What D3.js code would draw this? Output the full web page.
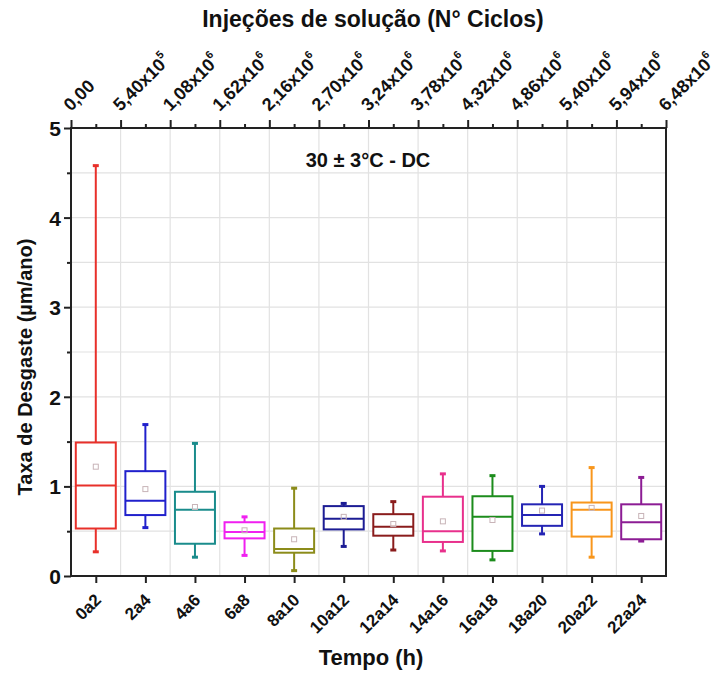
<!DOCTYPE html>
<html>
<head>
<meta charset="utf-8">
<script src="https://cdn.jsdelivr.net/npm/d3@7"></script>
<style>
  body { margin: 0; background: #fff; }
  text { font-family: "Liberation Sans", Arial, sans-serif; font-weight: bold; fill: #111; }
</style>
</head>
<body>
<div id="chart"></div>
<script>
// data
const categories = ["0a2", "2a4", "4a6", "6a8", "8a10", "10a12", "12a14", "14a16", "16a18", "18a20", "20a22", "22a24"];
const whiskerLow = [0.27, 0.54, 0.21, 0.23, 0.06, 0.33, 0.29, 0.28, 0.18, 0.47, 0.21, 0.39];
const q1 = [0.53, 0.68, 0.36, 0.42, 0.26, 0.52, 0.45, 0.38, 0.28, 0.56, 0.44, 0.41];
const median = [1.01, 0.84, 0.74, 0.49, 0.30, 0.64, 0.55, 0.50, 0.66, 0.68, 0.74, 0.60];
const q3 = [1.49, 1.17, 0.94, 0.60, 0.53, 0.78, 0.69, 0.885, 0.89, 0.80, 0.82, 0.80];
const whiskerHigh = [4.58, 1.69, 1.48, 0.66, 0.98, 0.81, 0.83, 1.14, 1.12, 1.00, 1.21, 1.10];
const means = [1.22, 0.97, 0.77, 0.51, 0.41, 0.66, 0.58, 0.61, 0.625, 0.73, 0.76, 0.67];
const colors = ["#e8302a", "#2020cc", "#1a8c8c", "#f020f0", "#8c8c1a", "#1c1c94", "#8a1c1c", "#e8308c", "#1c8c1c", "#2424b4", "#f8961c", "#8c1c94"];
const topLabels = [["0,00", ""], ["5,40x10", "5"], ["1,08x10", "6"], ["1,62x10", "6"], ["2,16x10", "6"], ["2,70x10", "6"],
  ["3,24x10", "6"], ["3,78x10", "6"], ["4,32x10", "6"], ["4,86x10", "6"], ["5,40x10", "6"], ["5,94x10", "6"], ["6,48x10", "6"]];
const yTicks = [0, 1, 2, 3, 4, 5];

const width = 717, height = 673;
const margin = { top: 128, right: 51, bottom: 97, left: 71 };
const innerWidth = width - margin.left - margin.right;
const innerHeight = height - margin.top - margin.bottom;

const svg = d3.select("#chart").append("svg")
  .attr("width", width).attr("height", height);

const g = svg.append("g")
  .attr("transform", `translate(${margin.left},${margin.top})`);

const x = d3.scaleLinear().domain([0.5, 12.5]).range([0, innerWidth]);
const y = d3.scaleLinear().domain([0, 5]).range([innerHeight, 0]);

// grid
const gridY = d3.range(0.5, 5, 0.5);
g.selectAll(".gy").data(gridY).join("line")
  .attr("x1", 0).attr("x2", innerWidth)
  .attr("y1", d => y(d)).attr("y2", d => y(d))
  .attr("stroke", "#e2e2e2").attr("stroke-width", 1.2);
const gridX = d3.range(1.5, 12.5, 1);
g.selectAll(".gx").data(gridX).join("line")
  .attr("x1", d => x(d)).attr("x2", d => x(d))
  .attr("y1", 0).attr("y2", innerHeight)
  .attr("stroke", "#e2e2e2").attr("stroke-width", 1.2);

// boxes
const bw = 40;
const boxes = g.selectAll(".box").data(categories.map((c, i) => i)).join("g")
  .attr("transform", i => `translate(${x(i + 1)},0)`)
  .attr("stroke", i => colors[i]).attr("stroke-width", 2).attr("fill", "none");

boxes.append("line").attr("x1", 0).attr("x2", 0)
  .attr("y1", i => y(q3[i])).attr("y2", i => y(whiskerHigh[i]));
boxes.append("line").attr("x1", 0).attr("x2", 0)
  .attr("y1", i => y(q1[i])).attr("y2", i => y(whiskerLow[i]));
boxes.append("line").attr("x1", -3).attr("x2", 3)
  .attr("y1", i => y(whiskerHigh[i])).attr("y2", i => y(whiskerHigh[i])).attr("stroke-width", 3);
boxes.append("line").attr("x1", -3).attr("x2", 3)
  .attr("y1", i => y(whiskerLow[i])).attr("y2", i => y(whiskerLow[i])).attr("stroke-width", 3);
boxes.append("rect")
  .attr("x", -bw / 2).attr("width", bw)
  .attr("y", i => y(q3[i])).attr("height", i => y(q1[i]) - y(q3[i]))
  .attr("fill", "#fff");
boxes.append("line").attr("x1", -bw / 2).attr("x2", bw / 2)
  .attr("y1", i => y(median[i])).attr("y2", i => y(median[i]));
boxes.append("rect")
  .attr("x", -2.5).attr("width", 5)
  .attr("y", i => y(means[i]) - 2.5).attr("height", 5)
  .attr("stroke", "#c8b4b8").attr("stroke-width", 1);

// frame
g.append("rect").attr("width", innerWidth).attr("height", innerHeight)
  .attr("fill", "none").attr("stroke", "#222").attr("stroke-width", 2);

// left axis
const leftAxis = d3.axisLeft(y).tickValues(yTicks).tickSize(7).tickPadding(3).tickFormat(d3.format("d"));
const la = g.append("g").call(leftAxis);
la.select(".domain").remove();
la.selectAll("line").attr("stroke", "#222").attr("stroke-width", 2);
la.selectAll("text").attr("font-size", 21).attr("fill", "#111").attr("dy", "0.36em");
g.append("g").call(d3.axisLeft(y).tickValues(d3.range(0.5, 5, 1)).tickSize(4).tickFormat(""))
  .call(a => a.select(".domain").remove())
  .selectAll("line").attr("stroke", "#222").attr("stroke-width", 2);

// bottom axis
const bottomAxis = d3.axisBottom(x).tickValues(d3.range(1, 13)).tickSize(7).tickFormat(d => categories[d - 1]);
const ba = g.append("g").attr("transform", `translate(0,${innerHeight})`).call(bottomAxis);
ba.select(".domain").remove();
ba.selectAll("line").attr("stroke", "#222").attr("stroke-width", 2);
ba.selectAll("text")
  .attr("font-size", 17).attr("fill", "#111")
  .attr("text-anchor", "end")
  .attr("dy", null).attr("y", 0)
  .attr("transform", "translate(6,25) rotate(-45)");

// top axis
const topAxis = d3.axisTop(x).tickValues(d3.range(0.5, 13, 1)).tickSize(8).tickFormat("");
const ta = g.append("g").call(topAxis);
ta.select(".domain").remove();
ta.selectAll("line").attr("stroke", "#222").attr("stroke-width", 2);
g.append("g").call(d3.axisTop(x).tickValues(d3.range(1, 13)).tickSize(4).tickFormat(""))
  .call(a => a.select(".domain").remove())
  .selectAll("line").attr("stroke", "#222").attr("stroke-width", 2);

const tl = g.selectAll(".toplab").data(topLabels).join("text")
  .attr("font-size", 18)
  .attr("transform", (d, i) => `translate(${x(i + 0.5)},-16) rotate(-45)`);
tl.append("tspan").text(d => d[0]);
tl.append("tspan").text(d => d[1]).attr("font-size", 11).attr("dy", -9);

// titles
svg.append("text").text("Injeções de solução (N° Ciclos)")
  .attr("x", 373).attr("y", 27)
  .attr("text-anchor", "middle").attr("font-size", 23);
svg.append("text").text("Tempo (h)")
  .attr("x", 371).attr("y", 665)
  .attr("text-anchor", "middle").attr("font-size", 22);
svg.append("text").text("Taxa de Desgaste (µm/ano)")
  .attr("transform", `translate(32,367) rotate(-90)`)
  .attr("text-anchor", "middle").attr("font-size", 20);
svg.append("text").text("30 ± 3°C - DC")
  .attr("x", 368).attr("y", 167)
  .attr("text-anchor", "middle").attr("font-size", 20);
</script>
</body>
</html>
